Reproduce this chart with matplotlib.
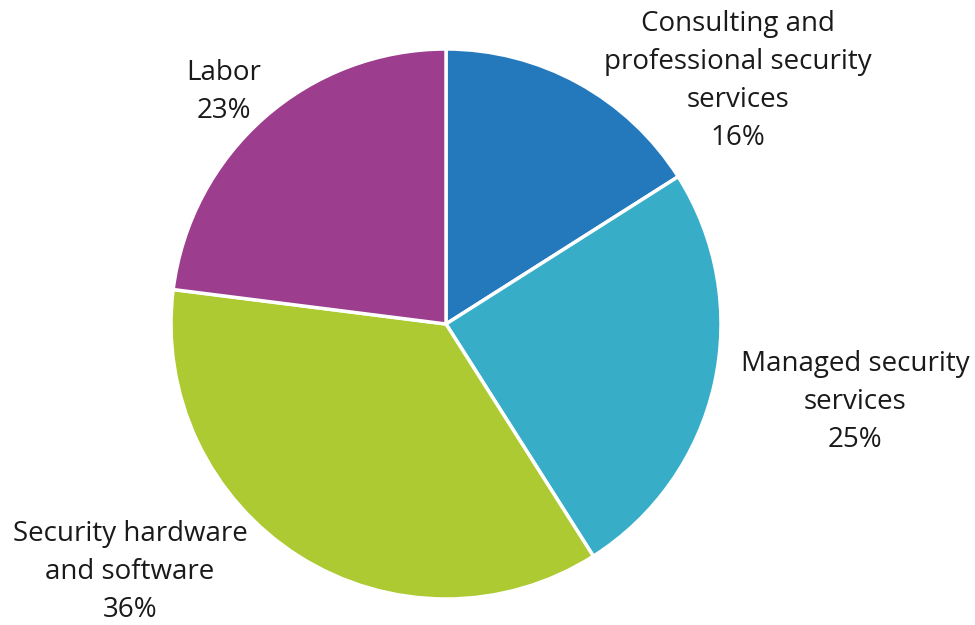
import matplotlib
matplotlib.use("Agg")
import matplotlib.pyplot as plt

plt.rcParams["font.family"] = ["Open Sans", "DejaVu Sans"]

labels = ["Consulting and\nprofessional security\nservices",
          "Managed security\nservices",
          "Security hardware\nand software",
          "Labor"]
shares = [16, 25, 36, 23]
colors = ["#2479bd", "#37adc8", "#adca33", "#9c3d8e"]

# label anchor points in pixel coords (x, y from top)
label_pos = [(738, 81), (855, 402), (130, 572), (224, 92)]

W, H = 975, 625
fig = plt.figure(figsize=(W / 100, H / 100), dpi=100)
ax = fig.add_axes([0, 0, 1, 1])

ax.pie(shares, colors=colors, startangle=90, counterclock=False,
       center=(446, H - 324), radius=275, frame=True,
       wedgeprops=dict(edgecolor="white", linewidth=2.5))
ax.set_xlim(0, W)
ax.set_ylim(0, H)
ax.set_aspect("equal")
ax.axis("off")

for lab, val, (x, y) in zip(labels, shares, label_pos):
    ax.text(x, H - y, f"{lab}\n{val}%", ha="center", va="center",
            fontsize=20, color="#1a1a1a", linespacing=1.48)

fig.savefig("out.png", dpi=100)
